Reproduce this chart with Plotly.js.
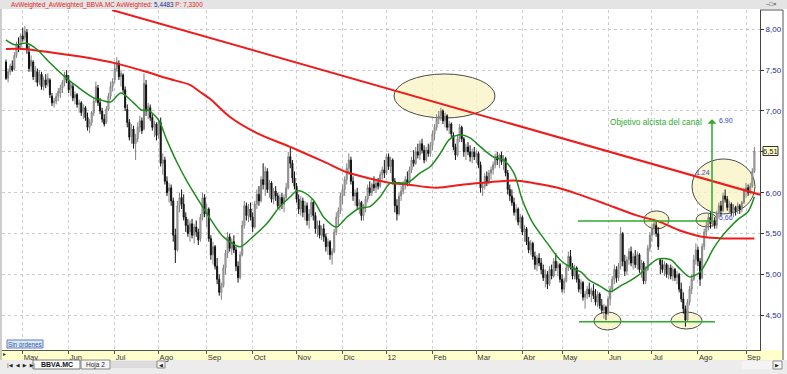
<!DOCTYPE html>
<html><head><meta charset="utf-8">
<script src="https://cdn.plot.ly/plotly-3.0.1.min.js"></script>
<style>html,body{margin:0;padding:0;background:#fff}#chart{width:787px;height:374px}</style>
</head><body><div id="chart"></div>
<script>
// ---- data ----
const startDate = '2011-04-18';
const holidays = ['2011-04-22','2011-04-25','2011-12-26','2012-04-06','2012-04-09','2012-05-01'];
const tickLabels = ['May','Jun','Jul','Ago','Sep','Oct','Nov','Dic','12','Feb','Mar','Abr','May','Jun','Jul','Ago','Sep'];
const yTicks = [4.5,5,5.5,6,6.5,7,7.5,8];
const yTickLabels = ['4,50','5,00','5,50','6,00','','7,00','7,50','8,00'];

// prices in euro cents
const openC = [
760,740,748,755,752,768,780,778,792,790, 796,772,755,760,742,748,738,745,730,738,
734,738,718,710,712,718,722,728,735,744, 738,728,730,716,720,708,710,700,704,692,
680,686,698,712,728,710,700,690,686,702, 718,730,738,752,758,742,744,726,702,686,
668,678,660,666,680,688,678,732,700,704, 692,680,684,672,686,636,640,614,602,606,
590,548,530,584,594,586,570,560,552,562, 548,558,552,544,570,594,574,580,544,524,
534,510,494,478,486,508,526,546,532,540, 530,510,496,524,560,584,572,580,570,558,
586,598,590,616,610,626,604,612,592,602, 596,584,594,586,594,606,644,636,618,608,
592,580,590,576,584,566,574,588,572,556, 560,548,556,546,534,540,524,528,552,570,
578,596,604,616,630,640,614,596,600,584, 588,572,582,592,606,600,610,606,612,608,
622,628,624,644,632,640,614,584,574,596, 602,610,616,612,628,640,636,650,646,660,
652,640,652,648,658,672,680,690,694,700, 688,694,680,684,670,656,646,666,680,666,
650,656,650,644,650,644,648,634,606,608, 620,612,624,628,634,644,640,646,638,642,
624,604,596,588,576,580,564,570,552,556, 540,530,538,522,512,520,514,506,496,500,
488,506,498,516,508,512,494,482,492,508, 522,510,498,508,494,482,490,472,476,482,
476,480,474,466,476,462,456,460,452,470, 482,494,506,496,510,550,516,504,518,528,
514,522,512,524,506,514,492,506,532,548, 556,560,550,518,512,506,512,500,508,498,
506,496,500,482,470,458,444,466,482,494, 518,530,516,496,534,552,560,570,562,566,
560,574,584,578,596,592,582,586,576,582, 578,584,580,588,602,606,600,608,626];
const highC = [
763,752,758,762,772,785,790,795,802,804, 800,780,768,762,755,752,750,748,742,745,
746,740,722,716,722,728,732,738,748,750, 744,736,734,724,722,714,712,708,706,698,
690,700,716,736,732,716,704,696,706,722, 736,740,758,766,762,750,746,730,708,690,
684,682,672,686,694,692,746,738,710,708, 696,688,686,690,692,648,644,620,612,610,
594,556,590,600,604,598,576,568,566,568, 562,566,556,574,600,598,586,582,548,540,
536,520,500,490,512,530,552,550,544,548, 534,516,528,566,590,588,586,588,576,590,
604,608,620,636,632,630,616,614,606,608, 600,598,600,598,612,650,657,640,626,612,
598,596,594,590,588,580,592,590,576,566, 566,560,562,550,544,542,532,556,576,582,
600,610,620,636,648,644,620,604,606,592, 590,586,596,610,614,612,620,616,618,626,
632,640,648,648,644,642,618,592,600,608, 614,620,626,632,644,652,656,660,664,666,
658,656,660,662,676,684,696,700,704,702, 698,696,688,686,674,660,670,684,682,668,
660,662,658,654,656,652,650,638,612,624, 626,628,632,638,648,650,648,650,646,644,
628,610,604,594,586,582,574,572,560,558, 546,542,540,528,524,526,520,512,506,504,
510,512,520,526,516,514,500,496,512,528, 530,514,512,510,500,494,492,480,486,490,
484,488,482,480,478,470,464,462,474,486, 498,512,510,514,558,552,524,522,532,534,
526,530,528,526,518,516,510,536,552,562, 567,566,558,520,518,516,514,512,512,510,
508,504,502,490,478,462,470,486,500,524, 538,534,520,538,556,566,574,576,572,570,
578,588,590,600,604,596,590,588,586,584, 588,586,590,606,612,610,612,630,656];
const lowC = [
738,735,744,748,750,765,772,775,785,786, 770,748,748,738,735,730,732,726,725,728,
730,716,706,704,708,712,716,722,730,734, 722,718,712,708,704,698,694,690,688,676,
673,682,694,710,706,696,686,681,684,700, 714,724,734,748,738,730,722,700,680,664,
660,654,640,662,674,672,676,694,690,688, 676,668,664,666,632,622,610,596,588,584,
540,514,528,576,580,566,552,546,540,544, 538,546,536,540,566,570,558,540,518,512,
506,488,474,469,484,500,520,528,524,526, 504,490,494,522,556,566,564,566,552,556,
580,584,588,604,596,600,594,588,586,590, 580,578,580,576,590,604,630,612,604,588,
574,572,570,566,560,556,570,566,550,546, 544,542,540,528,524,518,512,526,548,560,
574,586,596,610,622,610,590,584,580,574, 566,566,576,588,596,596,602,600,604,606,
616,618,622,628,624,610,576,566,572,590, 598,604,608,610,624,632,634,642,640,648,
636,638,644,644,652,664,676,684,688,684, 680,676,672,668,652,640,644,662,662,644,
640,646,638,636,640,636,630,600,596,604, 608,610,616,622,630,634,630,634,628,620,
598,590,584,572,566,560,556,548,540,536, 526,524,518,506,504,510,500,492,484,482,
486,494,496,504,498,490,478,477,490,504, 506,494,494,490,478,476,468,458,470,472,
466,470,462,460,458,452,446,444,450,462, 478,488,490,492,506,510,498,500,512,510,
506,508,506,502,496,488,488,504,528,540, 548,546,530,500,502,498,496,494,494,492,
492,488,478,466,452,436,442,462,476,492, 512,510,486,494,530,546,554,556,558,556,
556,568,572,576,588,578,574,572,570,572, 574,574,576,586,594,596,598,606,624];
const closeC = [
740,748,755,750,768,782,776,792,788,798, 775,752,762,742,750,735,745,730,738,732,
740,720,710,712,718,724,728,735,744,738, 726,732,716,720,708,710,698,704,692,680,
686,698,712,730,710,700,690,684,702,718, 730,736,752,760,742,746,726,704,686,668,
678,660,666,680,688,676,734,700,706,692, 680,684,670,686,636,640,614,600,606,590,
548,530,584,594,586,570,560,550,562,548, 558,552,542,570,594,574,580,544,524,534,
510,494,478,486,508,526,546,532,540,530, 510,496,524,560,584,572,580,570,558,586,
598,590,616,610,626,604,612,592,602,596, 584,594,586,594,606,644,636,618,608,592,
580,590,576,584,566,574,588,572,556,560, 548,556,546,534,540,524,528,552,570,578,
596,604,616,630,640,614,596,600,584,588, 572,582,592,606,600,610,606,612,608,622,
628,624,644,632,640,614,584,574,596,602, 610,616,612,628,640,636,650,646,660,652,
640,652,648,658,672,680,690,694,700,688, 694,680,684,672,656,646,666,680,666,650,
656,650,644,650,644,648,634,606,608,620, 612,624,628,634,644,640,646,638,642,624,
604,596,588,576,580,564,570,552,556,540, 530,538,522,512,520,514,506,496,500,488,
506,498,516,508,512,494,482,492,508,522, 510,498,508,494,482,490,472,476,482,476,
480,474,466,476,462,456,460,452,470,482, 494,506,496,510,550,516,504,518,528,514,
522,512,524,506,514,492,506,532,548,556, 562,550,534,512,506,512,500,508,498,506,
496,500,482,470,458,444,466,482,494,518, 530,516,494,534,552,560,570,562,566,560,
574,584,578,596,592,582,586,576,582,578, 584,580,588,602,606,600,608,626,651];

// moving averages (trading-day index, value)
const greenMaIdx = [0,4,10,15,21,29,34,42,46,50,55,61,65,68,73,77,82,87,93,98,104,112,118,125,131,136,139,142,147,152,158,163,169,174,179,184,192,198,203,208,212,217,222,227,233,238,243,247,252,259,265,270,275,279,284,289,294,299,303,308,312,318,322,327,332,335,338,342,345,350,355,358];
const greenMaVal = [7.87,7.81,7.83,7.75,7.59,7.40,7.30,7.16,7.13,7.11,7.22,7.10,7.01,7.01,6.89,6.64,6.36,6.12,5.87,5.67,5.46,5.34,5.46,5.63,5.83,5.95,6.02,6.01,5.91,5.70,5.58,5.70,5.81,5.83,5.95,6.12,6.12,6.24,6.32,6.49,6.65,6.71,6.67,6.56,6.44,6.40,6.24,5.91,5.63,5.38,5.18,5.09,5.03,4.93,4.86,4.79,4.86,4.93,5.00,5.12,5.19,5.18,5.08,4.97,5.03,5.15,5.30,5.45,5.54,5.67,5.77,5.95];
const redMaIdx = [0,8,21,37,53,67,77,88,93,98,107,120,136,152,163,173,184,192,206,219,232,243,252,264,275,286,302,313,322,333,343,358];
const redMaVal = [7.76,7.76,7.72,7.66,7.58,7.48,7.40,7.32,7.23,7.14,6.93,6.73,6.56,6.38,6.25,6.18,6.12,6.10,6.06,6.10,6.13,6.15,6.12,6.06,5.97,5.87,5.72,5.64,5.54,5.46,5.44,5.44];
const trendIdx = [50.7, 360.7];
const trendVal = [8.236, 5.976];

// ---- x index / month ticks from trading calendar ----
const n = closeC.length;
const dates = [];
{
  let d = new Date(startDate + 'T00:00:00Z');
  while (dates.length < n) {
    const wd = d.getUTCDay();
    const iso = d.toISOString().slice(0,10);
    if (wd >= 1 && wd <= 5 && holidays.indexOf(iso) < 0) dates.push(new Date(d));
    d.setUTCDate(d.getUTCDate() + 1);
  }
}
const idx = dates.map((_, i) => i);
const tickVals = [];
for (let i = 1; i < n; i++) if (dates[i].getUTCMonth() !== dates[i-1].getUTCMonth()) tickVals.push(i);

const c = v => v / 100;
const lastLabel = (closeC[n-1] / 100).toFixed(2).replace('.', ',');

// ---- pixel helpers for page furniture ----
const PL = 2, PR = 760, PT = 10, PB = 350;
const px = x => (x - PL) / (PR - PL);
const py = y => (PB - y) / (PB - PT);
const ix = x => (x - 6) / 2.0905;

const narrow = 'Liberation Sans Narrow, Arial Narrow, Liberation Sans, Arial, sans-serif';
const sans = 'Liberation Sans, Arial, sans-serif';
const RED = '#f01a1a', GREEN = '#1e8c1e', LGREEN = '#2eaa2e', BLUE = '#3446c8';

const traces = [
  {type:'candlestick', x: idx, open: openC.map(c), high: highC.map(c), low: lowC.map(c), close: closeC.map(c),
   increasing:{line:{color:'#808080', width:1}, fillcolor:'#e0e0e0'},
   decreasing:{line:{color:'#111', width:1}, fillcolor:'#111'},
   whiskerwidth:0, hoverinfo:'skip'},
  {type:'scatter', mode:'lines', x: redMaIdx, y: redMaVal, line:{color:RED, width:2, shape:'spline', smoothing:0.8}, hoverinfo:'skip'},
  {type:'scatter', mode:'lines', x: greenMaIdx, y: greenMaVal, line:{color:GREEN, width:1.5, shape:'spline', smoothing:0.8}, hoverinfo:'skip'},
  {type:'scatter', mode:'lines', x: trendIdx, y: trendVal, line:{color:RED, width:2}, hoverinfo:'skip'}
];

const ell = (x0,x1,y0,y1) => ({type:'circle', xref:'x', yref:'y', x0, x1, y0, y1, layer:'between',
  fillcolor:'rgba(248,244,196,0.78)', line:{color:'#4a4a4a', width:1}});
const prect = (x0,x1,y0,y1,fill,line,layer) => ({type:'rect', xref:'paper', yref:'paper',
  x0:px(x0), x1:px(x1), y0:py(y1), y1:py(y0), fillcolor:fill, line: line ? {color:line, width:1} : {width:0}, layer: layer || 'above'});
const pline = (x0,y0,x1,y1,color) => ({type:'line', xref:'paper', yref:'paper', x0:px(x0), x1:px(x1), y0:py(y0), y1:py(y1), line:{color, width:1}, layer:'above'});

const shapes = [
  prect(0, 787, 0, 9, '#e4e4e4', null, 'below'),
  prect(0, 783, 350, 360, '#ffffcc', null, 'below'),
  prect(0, 787, 360, 374, '#ececec', null, 'below'),
  pline(783, 10, 783, 360, '#555'),
  pline(760, 10, 783, 10, '#555'),
  pline(1, 9, 1, 360, '#9a9a9a'),
  // ellipses
  ell(ix(394), ix(495), 7.453, 6.914),
  ell(ix(644), ix(669), 5.777, 5.557),
  ell(ix(692), ix(755), 6.413, 5.740),
  ell(ix(696), ix(717), 5.752, 5.581),
  ell(ix(594), ix(621), 4.540, 4.320),
  ell(ix(671), ix(702), 4.540, 4.332),
  // channel lines
  {type:'line', xref:'x', yref:'y', x0:ix(578), x1:ix(712), y0:5.655, y1:5.655, line:{color:LGREEN, width:1.5}, layer:'above'},
  {type:'line', xref:'x', yref:'y', x0:ix(579), x1:ix(715), y0:4.42, y1:4.42, line:{color:LGREEN, width:1.5}, layer:'above'},
  // footer controls
  prect(33, 80, 360, 369, '#ffffff', '#777'),
  prect(81, 110, 360, 369, '#f6f6f6', '#888'),
  prect(111, 157, 361, 368, '#dcdcdc', null),
  prect(157, 165, 361, 368, '#f4f4f4', '#888'),
  prect(742, 773, 361, 369, '#f4f4f4', null),
  prect(773, 782, 361, 369, '#f8f8f8', '#888'),
  prect(7, 43, 340, 348, '#dce8f6', '#5d82b4'),
  prect(763, 778, 146.5, 155.5, '#ffffc8', '#333')
];

const pann = (x, y, text, size, color, xanchor, family) => ({xref:'paper', yref:'paper', x:px(x), y:py(y),
  text, showarrow:false, xanchor: xanchor || 'left', yanchor:'middle', font:{size, color, family: family || sans}});
const dann = (x, y, text, size, color, xanchor) => ({xref:'x', yref:'y', x, y, text, showarrow:false,
  xanchor: xanchor || 'left', yanchor:'middle', font:{size, color, family:sans}});

const annotations = [
  pann(9, 4.6, '<span style="color:#e02424">AvWeighted_AvWeighted_BBVA.MC AvWeighted: </span><span style="color:#1c2a8c">5,4483</span><span style="color:#e02424"> P: 7,3300</span>', 6.4, '#e02424', 'left', narrow),
  pann(771, 4.4, '‒□×', 6, '#333', 'center', sans),
  pann(25, 344, 'Sin órdenes', 6.3, '#2f55a5', 'center', sans),
  pann(770.5, 151, lastLabel, 7.5, '#222', 'center', narrow),
  pann(56.5, 364.8, '<b>BBVA.MC</b>', 7, '#111', 'center', sans),
  pann(95.5, 364.8, 'Hoja 2', 6.5, '#222', 'center', sans),
  pann(5, 365, '|◀  ◀  ▶  ▶|', 5, '#222', 'left', 'DejaVu Sans'),
  pann(161, 364.8, '◀', 5, '#222', 'center', 'DejaVu Sans'),
  pann(777.5, 365, '▶', 5, '#222', 'center', 'DejaVu Sans'),
  pann(4, 353, '▸', 6, '#333', 'center', 'DejaVu Sans'),
  dann(ix(704), 6.87, 'Objetivo alcista del canal', 8.3, LGREEN, 'right'),
  dann(ix(717), 6.885, '6.90', 7, BLUE, 'left'),
  dann(ix(717), 5.70, '5,66', 7, BLUE, 'left'),
  dann(ix(702.5), 6.25, '1.24', 7, BLUE, 'center'),
  {xref:'x', yref:'y', axref:'x', ayref:'y', x:ix(712), y:6.90, ax:ix(712), ay:5.655, text:'', showarrow:true,
   arrowhead:1, arrowsize:1, arrowwidth:1.5, arrowcolor:LGREEN, standoff:0, startstandoff:0}
];

const layout = {
  width:787, height:374,
  margin:{l:PL, r:787-PR, t:PT, b:374-PB, pad:0},
  paper_bgcolor:'#ffffff', plot_bgcolor:'#ffffff',
  showlegend:false, separators:',.', dragmode:false,
  xaxis:{range:[ix(PL), ix(PR)], tickmode:'array', tickvals:tickVals, ticktext:tickLabels,
    ticks:'outside', ticklen:3, tickcolor:'#555', tickwidth:1, ticklabelposition:'outside right',
    tickfont:{family:narrow, size:7.6, color:'#333'},
    showgrid:true, gridcolor:'#cccccc', griddash:'dot', gridwidth:1,
    showline:true, linecolor:'#555', linewidth:1, zeroline:false,
    rangeslider:{visible:false}, fixedrange:true},
  yaxis:{side:'right', range:[4.075, 8.236], tickmode:'array', tickvals:yTicks, ticktext:yTickLabels,
    ticks:'outside', ticklen:3, tickcolor:'#333', tickwidth:1,
    tickfont:{family:narrow, size:8, color:'#1f2a8a'},
    showgrid:true, gridcolor:'#cccccc', griddash:'dot', gridwidth:1,
    showline:true, linecolor:'#444', linewidth:1, zeroline:false, fixedrange:true},
  shapes, annotations
};

Plotly.newPlot('chart', traces, layout, {staticPlot:true, displayModeBar:false});
</script></body></html>
